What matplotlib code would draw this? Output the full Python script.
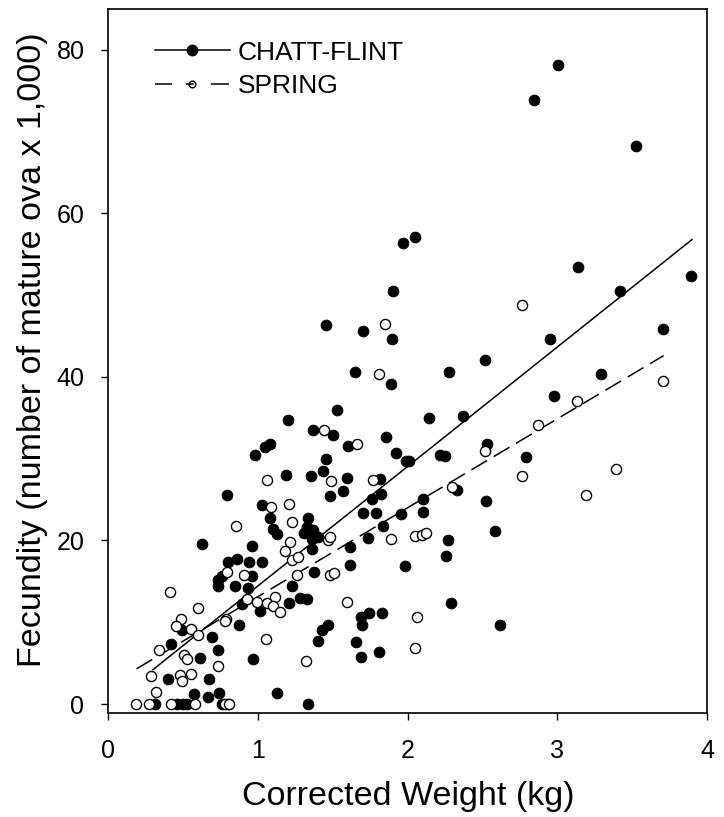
import matplotlib
matplotlib.use("Agg")
import matplotlib.pyplot as plt
from matplotlib.lines import Line2D

plt.rcParams['font.family'] = ['Liberation Sans', 'DejaVu Sans']

# CHATT-FLINT (filled circles)
chatt_x = [3.005, 2.845, 3.524, 2.050, 1.972, 3.140, 3.893, 1.905, 3.419, 1.456,
           3.704, 1.701, 2.949, 1.894, 2.517, 1.649, 2.279, 3.292, 1.890, 2.978,
           1.531, 2.144, 2.373, 1.204, 1.371, 1.505, 1.856, 1.048, 1.082, 1.605,
           2.529, 1.923, 0.982, 2.217, 2.250, 2.791, 1.454, 1.990, 2.012, 1.189,
           1.353, 1.433, 1.598, 1.816, 1.571, 2.333, 1.482, 0.792, 1.821, 1.761,
           2.106, 2.524, 1.026, 1.705, 1.790, 1.957, 2.101, 1.082, 1.338, 1.104,
           1.131, 1.330, 1.370, 1.310, 1.400, 1.360, 1.834, 2.584, 1.734, 2.273,
           0.626, 0.959, 1.360, 1.616, 2.257, 0.799, 0.859, 0.942, 1.026, 1.616,
           1.983, 1.378, 0.959, 0.732, 0.759, 0.737, 0.848, 0.933, 1.227, 0.893,
           1.015, 1.211, 1.282, 1.327, 2.290, 1.689, 1.745, 1.828, 0.875, 1.698,
           1.471, 1.427, 2.618, 0.492, 0.692, 1.405, 1.656, 0.421, 1.810, 0.737,
           1.689, 0.614, 0.970, 0.403, 0.677, 0.576, 0.670, 0.743, 1.126, 1.338,
           0.314, 0.459, 0.503, 0.525, 0.759, 0.803]
chatt_y = [78.2, 73.9, 68.2, 57.1, 56.4, 53.5, 52.3, 50.5, 50.5, 46.4,
           45.9, 45.6, 44.7, 44.6, 42.1, 40.6, 40.6, 40.4, 39.1, 37.7,
           36.0, 35.0, 35.2, 34.7, 33.5, 32.9, 32.6, 31.4, 31.8, 31.5,
           31.8, 30.7, 30.4, 30.4, 30.3, 30.2, 30.0, 29.7, 29.7, 28.0,
           27.9, 28.5, 27.7, 27.5, 26.1, 26.2, 25.4, 25.6, 25.7, 25.1,
           25.1, 24.8, 24.3, 23.4, 23.3, 23.2, 23.5, 22.8, 22.8, 21.4,
           20.8, 21.7, 21.3, 20.9, 20.4, 20.2, 21.8, 21.1, 20.3, 20.0,
           19.6, 19.3, 18.9, 19.2, 18.1, 17.4, 17.7, 17.4, 17.4, 17.0,
           16.9, 16.2, 15.6, 15.2, 15.6, 14.4, 14.4, 14.2, 14.4, 12.2,
           11.4, 12.3, 13.0, 12.8, 12.3, 10.7, 11.1, 11.1, 9.7, 9.7,
           9.7, 9.1, 9.7, 9.1, 8.2, 7.7, 7.6, 7.3, 6.4, 6.6,
           5.7, 5.6, 5.5, 3.0, 3.0, 1.2, 0.9, 1.4, 1.3, 0.0,
           0.0, 0.0, 0.0, 0.0, 0.0, 0.0]

# SPRING (open circles)
spring_x = [2.762, 1.850, 1.812, 3.704, 3.130, 2.869, 1.442, 1.661, 2.517, 3.392,
            1.060, 1.487, 1.767, 2.767, 2.295, 3.190, 1.088, 1.211, 0.855, 1.227,
            1.215, 1.182, 1.227, 1.271, 1.471, 1.482, 1.888, 2.050, 2.095, 2.124,
            0.792, 0.910, 1.260, 1.482, 1.509, 0.414, 0.926, 0.993, 1.060, 1.115,
            1.100, 1.149, 1.594, 0.599, 0.487, 0.454, 0.552, 0.788, 0.781, 2.066,
            0.599, 1.053, 0.341, 2.050, 0.510, 0.530, 0.732, 1.320, 0.285, 0.481,
            0.552, 0.492, 0.318, 0.187, 0.276, 0.419, 0.583, 0.781, 0.808]
spring_y = [48.8, 46.5, 40.4, 39.5, 37.1, 34.1, 33.5, 31.8, 31.0, 28.8,
            27.4, 27.3, 27.4, 27.9, 26.5, 25.5, 24.1, 24.5, 21.8, 22.2,
            19.8, 18.7, 17.6, 18.0, 20.1, 20.4, 20.2, 20.5, 20.7, 20.9,
            16.2, 15.8, 15.8, 15.8, 16.0, 13.7, 12.8, 12.5, 12.3, 13.1,
            12.0, 11.2, 12.5, 11.8, 10.4, 9.5, 9.2, 10.4, 10.1, 10.7,
            8.4, 8.0, 6.6, 6.8, 6.0, 5.5, 4.7, 5.2, 3.4, 3.5,
            3.7, 2.8, 1.5, 0.0, 0.0, 0.0, 0.0, 0.0, 0.0]

# Regression lines (end points)
chatt_fit_x = [0.30, 3.90]
chatt_fit_y = [4.2, 56.8]
spring_fit_x = [0.19, 3.71]
spring_fit_y = [4.3, 42.6]

x_ticks = [0, 1, 2, 3, 4]
y_ticks = [0, 20, 40, 60, 80]

fig = plt.figure(figsize=(7.24, 8.17), dpi=100)
ax = fig.add_axes([0.1492, 0.1273, 0.8273, 0.8617])

ax.plot(chatt_fit_x, chatt_fit_y, color='black', lw=1.1, zorder=2)
ax.plot(spring_fit_x, spring_fit_y, color='black', lw=1.1, dashes=(12, 5), zorder=2)
ax.plot(chatt_x, chatt_y, 'o', ms=7.6, mfc='black', mec='black', mew=0.8, ls='none', zorder=3)
ax.plot(spring_x, spring_y, 'o', ms=7.3, mfc='white', mec='black', mew=1.0, ls='none', zorder=4)

ax.set_xlim(0, 4)
ax.set_ylim(-1.1, 85.0)
ax.set_xticks(x_ticks)
ax.set_yticks(y_ticks)
ax.tick_params(direction='out', length=5, width=1, labelsize=18, top=False, right=False)
ax.tick_params(axis='x', pad=14)
ax.tick_params(axis='y', pad=12)
for s in ax.spines.values():
    s.set_linewidth(1.2)

ax.set_xlabel('Corrected Weight (kg)', fontsize=24.5)
ax.set_ylabel('Fecundity (number of mature ova x 1,000)', fontsize=24.5)
ax.xaxis.label.set_va('baseline')
ax.xaxis.set_label_coords(0.501, -0.1307)
ax.yaxis.set_label_coords(-0.101, 0.5156)

h1 = Line2D([], [], color='black', lw=1.1, marker='o', ms=7.5, mfc='black', mec='black')
h2 = Line2D([], [], color='black', lw=1.1, dashes=(11.1, 9.2, 5.2, 11.1, 11.8, 5),
            marker='o', ms=4.8, mfc='none', mec='black', mew=1.0)
ax.legend([h1, h2], ['CHATT-FLINT', 'SPRING'], loc='upper left',
          bbox_to_anchor=(0.0608, 0.970), frameon=False, fontsize=19,
          handlelength=2.84, handletextpad=0.3, labelspacing=0.35, borderaxespad=0)

fig.savefig('out.png', dpi=100)
